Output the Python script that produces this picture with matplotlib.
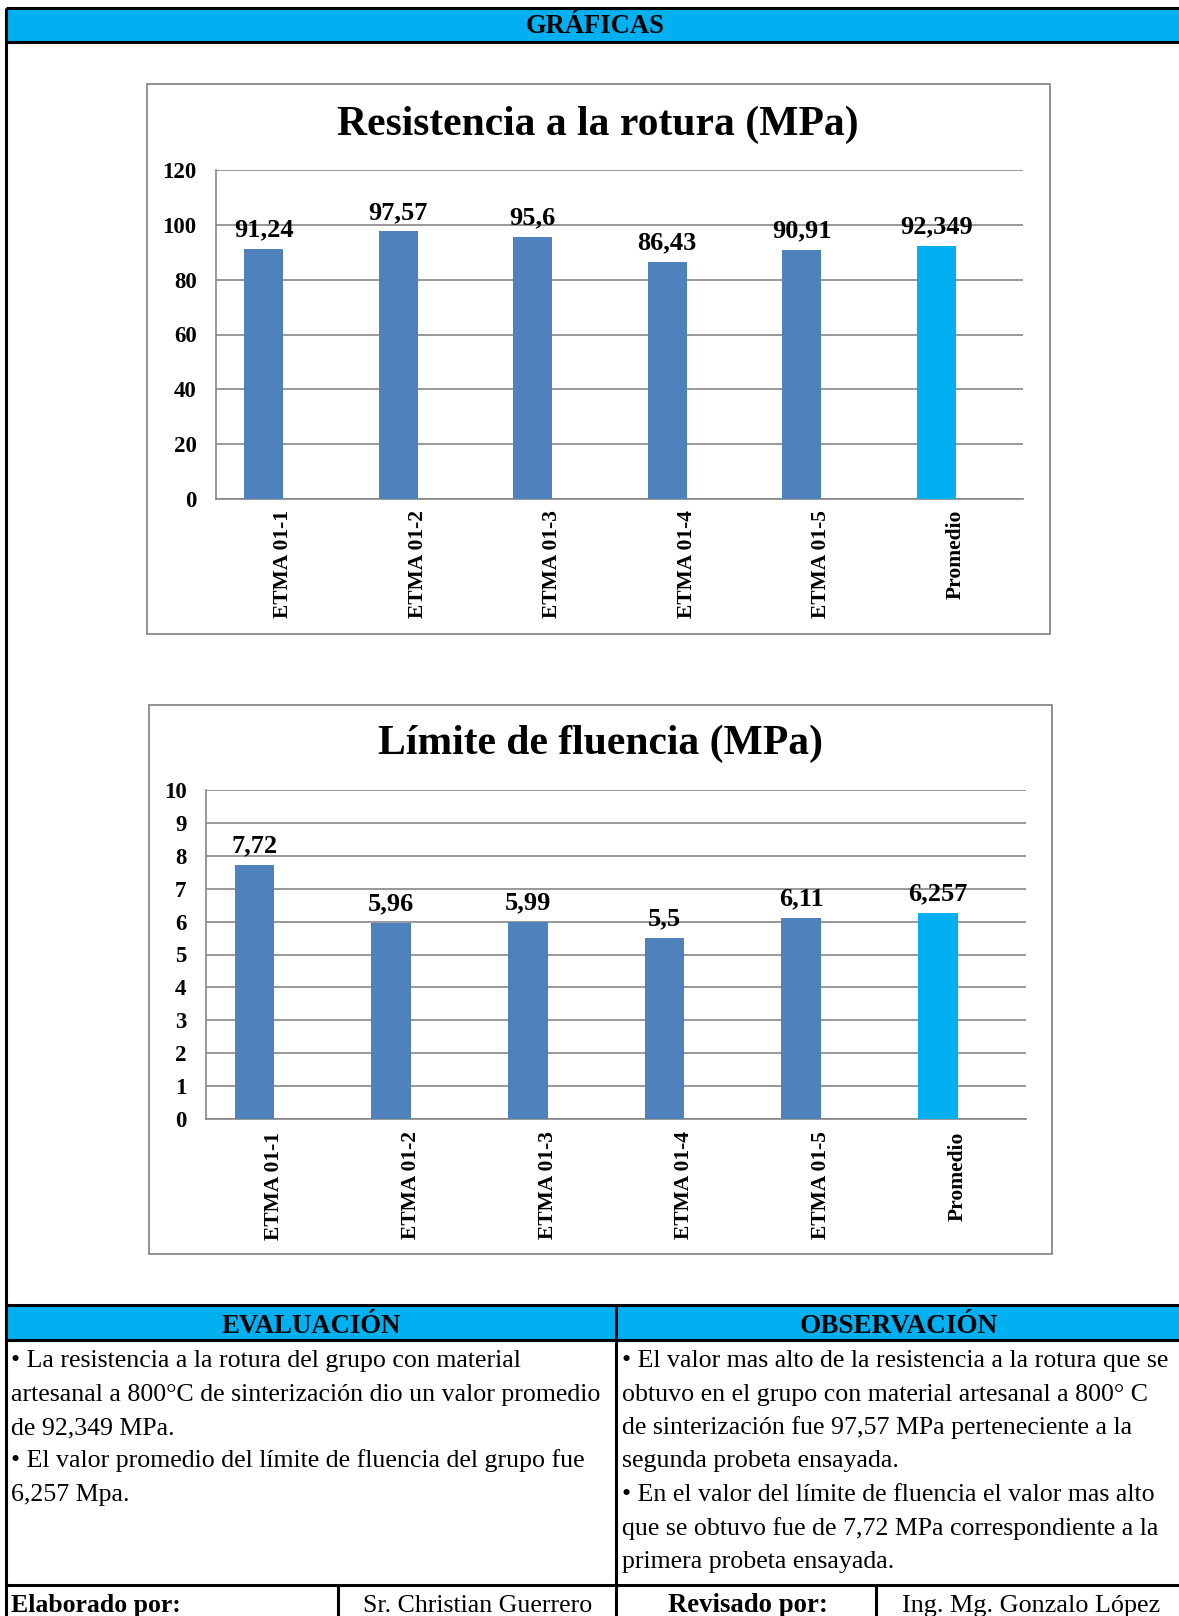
# report sheet : two bar charts ( rotura / fluencia ) + evaluation & observation table.

# %%

import matplotlib
matplotlib.use('Agg')
import matplotlib.pyplot as plt
from matplotlib.patches import Rectangle
import numpy as np

plt.rcParams['font.family'] = ['Liberation Serif', 'DejaVu Serif']

# %% data

categorias = ['ETMA 01-1', 'ETMA 01-2', 'ETMA 01-3', 'ETMA 01-4', 'ETMA 01-5', 'Promedio']

rotura = [91.24, 97.57, 95.6, 86.43, 90.91, 92.349]
fluencia = [7.72, 5.96, 5.99, 5.5, 6.11, 6.257]

rotura_ticks = [0, 20, 40, 60, 80, 100, 120]
fluencia_ticks = [0, 1, 2, 3, 4, 5, 6, 7, 8, 9, 10]

texto_eval = [
    '• La resistencia a la rotura del grupo con material',
    'artesanal a 800°C de sinterización dio un valor promedio',
    'de 92,349 MPa.',
    '• El valor promedio del límite de fluencia del grupo fue',
    '6,257 Mpa.',
]

texto_obs = [
    '• El valor mas alto de la resistencia a la rotura que se',
    'obtuvo en el grupo con material artesanal a 800° C',
    'de sinterización fue 97,57 MPa perteneciente a la',
    'segunda probeta ensayada.',
    '• En el valor del límite de fluencia el valor mas alto',
    'que se obtuvo fue de 7,72 MPa correspondiente a la',
    'primera probeta ensayada.',
]

# %% colours

azul_barra = '#4F81BD'
celeste = '#00B0F0'
colores = [azul_barra] * 5 + [celeste]

# %% figure in pixel units

W, H = 1179, 1616
fig = plt.figure(figsize=(W / 100, H / 100), dpi=100)

# background axes : x / y in pixels, y pointing down ( like the sheet ).
bg = fig.add_axes([0, 0, 1, 1])
bg.set_xlim(0, W)
bg.set_ylim(H, 0)
bg.axis('off')


def px_axes(x0, y0, x1, y1):
    # pixel box  ->  figure fraction
    return fig.add_axes([x0 / W, 1 - y1 / H, (x1 - x0) / W, (y1 - y0) / H])


lw_negro = 2.2

# %% header "GRÁFICAS"

bg.add_patch(Rectangle((6, 8), W, 33.5, facecolor=celeste, edgecolor='none'))
bg.hlines([8, 41.5], 6, W, color='black', lw=lw_negro)
bg.vlines(6, 8, H, color='black', lw=lw_negro)
bg.text(595, 33, 'GRÁFICAS', ha='center', va='baseline', fontsize=19.2, fontweight='bold')

# %% chart frames

bg.add_patch(Rectangle((147, 84), 903, 550, facecolor='none', edgecolor='#898989', lw=1.3))
bg.add_patch(Rectangle((149, 705), 903, 549, facecolor='none', edgecolor='#898989', lw=1.3))


# %% bar chart

def grafico(ax, valores, ticks, xpad):
    x = np.arange(len(categorias))
    w = 0.29
    # bars sit in the left slot of each category ( 2-series cluster in the original sheet )
    ax.bar(x - w / 2, valores, width=w, color=colores, zorder=3)

    for xi, v in zip(x, valores):
        ax.annotate(
            str(v).replace('.', ','),
            (xi - w / 2, v),
            xytext=(0, 9), textcoords='offset points',
            ha='center', va='baseline',
            fontsize=19, fontweight='bold',
        )

    ax.set_xlim(-0.5, len(categorias) - 0.5)
    ax.set_ylim(ticks[0], ticks[-1])
    ax.set_yticks(ticks)
    ax.set_xticks(x)
    ax.set_xticklabels(categorias, rotation=90, fontsize=15.5, fontweight='bold')
    ax.set_yticklabels([str(t) for t in ticks], fontsize=16.5, fontweight='bold')
    ax.tick_params(axis='x', length=0, pad=xpad)
    ax.tick_params(axis='y', length=0, pad=14)

    ax.grid(axis='y', color='#868686', lw=1.2, zorder=0)
    ax.set_axisbelow(True)
    for s in ['top', 'right']:
        ax.spines[s].set_visible(False)
    for s in ['left', 'bottom']:
        ax.spines[s].set_color('#868686')
        ax.spines[s].set_linewidth(1.2)


ax1 = px_axes(216, 170, 1023, 499)
grafico(ax1, rotura, rotura_ticks, 8)
bg.text(598, 125, 'Resistencia a la rotura (MPa)', ha='center', va='center',
        fontsize=30, fontweight='bold')

ax2 = px_axes(206, 790, 1026, 1119)
grafico(ax2, fluencia, fluencia_ticks, 9)
bg.text(601, 744, 'Límite de fluencia (MPa)', ha='center', va='center',
        fontsize=30, fontweight='bold')

# %% evaluation / observation table

bg.add_patch(Rectangle((6, 1305), W, 35, facecolor=celeste, edgecolor='none'))
bg.hlines([1305, 1340, 1585], 6, W, color='black', lw=lw_negro)
bg.vlines(616, 1305, H, color='black', lw=lw_negro)
bg.vlines([338, 876], 1585, H, color='black', lw=lw_negro)

bg.text(311, 1333, 'EVALUACIÓN', ha='center', va='baseline', fontsize=19.3, fontweight='bold')
bg.text(899, 1333, 'OBSERVACIÓN', ha='center', va='baseline', fontsize=19.6, fontweight='bold')

for i, linea in enumerate(texto_eval):
    bg.text(11, 1367 + 33.5 * i, linea, ha='left', va='baseline', fontsize=18.6)

for i, linea in enumerate(texto_obs):
    bg.text(622, 1367 + 33.5 * i, linea, ha='left', va='baseline', fontsize=18.6)

# %% signature row ( cut at the bottom of the sheet )

bg.text(11, 1612, 'Elaborado por:', ha='left', va='baseline', fontsize=18.5, fontweight='bold')
bg.text(478, 1612, 'Sr. Christian Guerrero', ha='center', va='baseline', fontsize=18.6)
bg.text(748, 1612, 'Revisado por:', ha='center', va='baseline', fontsize=19.3, fontweight='bold')
bg.text(1031, 1612, 'Ing. Mg. Gonzalo López', ha='center', va='baseline', fontsize=18.8)

# %%

fig.savefig('out.png', dpi=100)
